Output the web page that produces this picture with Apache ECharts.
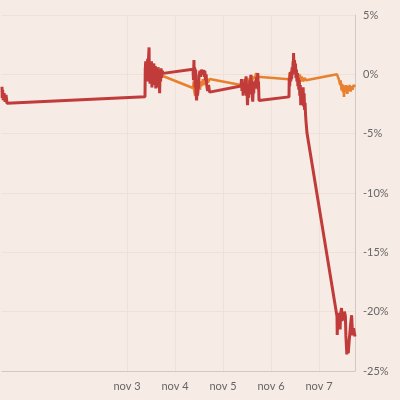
<!DOCTYPE html>
<html>
<head>
<meta charset="utf-8">
<script src="https://cdn.jsdelivr.net/npm/echarts@6/dist/echarts.min.js"></script>
<style>
html,body{margin:0;padding:0;background:#f6ebe5;}
#chart{width:400px;height:400px;}
</style>
</head>
<body>
<div id="chart"></div>
<script>
// x values are days: 3 = nov 3 00:00 (0 = oct 31)
const xTickDays = [3, 4, 5, 6, 7];
const xTickLabels = ['nov 3', 'nov 4', 'nov 5', 'nov 6', 'nov 7'];
const yTicks = [5, 0, -5, -10, -15, -20, -25];

const orangeSeries = [
  [3.375,0.4],[3.385,0.9],[3.395,0.1],[3.41,0.6],[3.42,-0.1],[3.43,1.0],[3.44,0.3],[3.45,0.8],[3.46,0.2],[3.47,1.1],[3.48,0.4],[3.49,0.9],[3.50,-0.2],[3.51,0.8],[3.52,0.1],[3.53,0.7],[3.54,-0.3],[3.55,0.6],[3.56,0.2],[3.57,0.9],[3.58,0.0],[3.59,0.6],[3.61,-0.4],[3.62,0.5],[3.64,0.1],[3.66,0.6],[3.68,-0.2],[3.70,0.4],[3.72,-0.1],[3.75,0.0],
  [4.375,-1.15],[4.39,-0.6],[4.40,-1.4],[4.42,-1.8],[4.43,-0.9],[4.45,-1.5],[4.47,-0.7],[4.48,-1.6],[4.50,-0.8],[4.52,-1.3],[4.54,-0.6],[4.56,-1.0],[4.58,-0.4],[4.60,-0.9],[4.62,-0.3],[4.64,-0.8],[4.66,-0.4],[4.69,-0.7],[4.72,-0.4],[4.75,-0.56],
  [5.375,-0.9],[5.39,-0.5],[5.41,-1.2],[5.43,-0.7],[5.45,-1.3],[5.47,-0.4],[5.49,-0.9],[5.51,-0.3],[5.53,-0.8],[5.55,-0.4],[5.57,-0.7],[5.59,-0.1],[5.61,-0.5],[5.63,-0.2],[5.66,-0.4],[5.69,0.1],[5.72,-0.2],[5.75,-0.06],
  [6.375,-0.42],[6.39,0.1],[6.40,-0.3],[6.42,0.3],[6.44,-0.1],[6.46,0.6],[6.47,0.2],[6.49,0.7],[6.51,0.0],[6.52,0.4],[6.54,-0.3],[6.56,0.1],[6.58,-0.4],[6.60,0.0],[6.62,-0.6],[6.64,-0.2],[6.67,-0.6],[6.70,-0.3],[6.73,-0.5],[6.75,-0.42],
  [7.375,0.0],[7.39,-0.05],[7.40,-0.1],[7.42,-0.5],[7.44,-0.9],[7.45,-0.5],[7.47,-1.35],[7.48,-0.8],[7.50,-1.5],[7.51,-0.9],[7.52,-1.9],[7.54,-1.0],[7.56,-1.5],[7.57,-0.9],[7.59,-1.65],[7.61,-1.0],[7.62,-1.4],[7.64,-0.9],[7.66,-1.45],[7.68,-1.0],[7.70,-1.3],[7.72,-0.9],[7.75,-1.07]
];

const redSeries = [
  [0.396,-1.04],[0.40,-2.0],[0.41,-1.3],[0.42,-2.17],[0.44,-1.58],[0.46,-2.31],[0.48,-1.74],[0.50,-2.44],[0.52,-2.5],
  [3.375,-1.89],[3.38,0.3],[3.39,1.1],[3.40,-0.4],[3.41,1.0],[3.42,-0.6],[3.43,1.3],[3.44,0.1],[3.45,1.5],[3.46,2.27],[3.465,-0.3],[3.47,0.9],[3.48,-0.8],[3.49,1.0],[3.50,-0.4],[3.51,1.1],[3.52,-1.1],[3.53,0.8],[3.54,-0.6],[3.55,0.9],[3.56,-0.9],[3.57,0.6],[3.58,-0.5],[3.59,0.7],[3.60,-1.2],[3.61,0.5],[3.62,-0.6],[3.63,0.6],[3.64,-0.9],[3.65,0.4],[3.66,-1.1],[3.67,0.3],[3.68,-1.6],[3.69,0.4],[3.70,-0.6],[3.71,0.5],[3.72,-0.3],[3.73,0.3],[3.75,0.08],
  [4.375,0.42],[4.385,-0.5],[4.395,1.2],[4.40,-0.2],[4.41,0.6],[4.42,-1.1],[4.43,0.4],[4.44,-1.6],[4.45,-2.2],[4.46,-0.9],[4.47,-1.8],[4.48,-0.6],[4.49,-1.2],[4.50,-0.1],[4.52,0.3],[4.53,-0.2],[4.55,0.4],[4.57,0.0],[4.59,0.36],[4.61,-0.2],[4.62,0.3],[4.64,-0.5],[4.65,0.0],[4.66,-0.9],[4.68,-1.4],[4.70,-0.9],[4.72,-1.5],[4.75,-1.58],
  [5.375,-0.99],[5.385,-0.4],[5.395,-1.4],[5.41,-0.7],[5.42,-1.8],[5.43,-0.9],[5.445,-1.6],[5.455,-0.4],[5.47,-1.1],[5.48,-0.17],[5.49,-1.8],[5.50,-1.1],[5.51,-2.6],[5.52,-1.5],[5.53,-2.0],[5.54,-0.8],[5.55,-1.4],[5.56,-0.5],[5.57,-1.7],[5.58,-0.03],[5.59,-1.0],[5.60,-0.5],[5.61,-1.9],[5.62,-2.3],[5.63,-1.0],[5.64,-1.6],[5.65,-0.6],[5.67,-1.2],[5.68,-0.5],[5.69,-1.0],[5.70,-0.2],[5.715,-0.8],[5.725,0.11],[5.735,-1.3],[5.74,-0.6],[5.75,-2.2],
  [6.375,-1.9],[6.38,-0.3],[6.39,-1.0],[6.40,0.2],[6.41,-0.6],[6.42,0.1],[6.43,-0.4],[6.44,0.6],[6.45,0.0],[6.46,1.1],[6.465,0.4],[6.47,1.8],[6.48,0.5],[6.49,1.2],[6.50,0.2],[6.51,0.9],[6.52,-0.3],[6.53,0.4],[6.54,-0.6],[6.55,0.1],[6.56,-1.0],[6.57,-0.3],[6.58,-1.3],[6.59,-0.5],[6.60,-1.8],[6.61,-0.9],[6.62,-2.6],[6.63,-1.4],[6.64,-2.2],[6.65,-1.2],[6.66,-2.0],[6.67,-1.1],[6.68,-2.7],[6.69,-1.6],[6.70,-3.0],[6.71,-2.4],[6.72,-3.4],[6.73,-4.0],[6.75,-4.95],
  [7.375,-20.4],[7.38,-21.96],[7.39,-20.6],[7.40,-20.1],[7.41,-21.2],[7.42,-20.4],[7.44,-21.5],[7.45,-20.2],[7.47,-19.7],[7.48,-20.8],[7.50,-20.1],[7.51,-20.7],[7.53,-20.0],[7.55,-20.4],[7.56,-22.0],[7.58,-23.6],[7.59,-22.8],[7.61,-23.5],[7.63,-22.4],[7.645,-21.7],[7.66,-21.0],[7.68,-20.3],[7.69,-21.2],[7.70,-22.0],[7.72,-21.4],[7.74,-21.5],[7.75,-22.1]
];

const chart = echarts.init(document.getElementById('chart'), null, {renderer: 'canvas'});
const labelFont = 'Lato, "Open Sans", sans-serif';
chart.setOption({
  backgroundColor: '#f6ebe5',
  animation: false,
  grid: {left: 2, right: 45, top: 15, bottom: 29, containLabel: false},
  xAxis: {
    type: 'value',
    min: 0.396,
    max: 7.75,
    axisLine: {show: true, onZero: false, lineStyle: {color: '#d2c9c4', width: 1}},
    axisTick: {show: false, customValues: xTickDays},
    axisLabel: {
      customValues: xTickDays,
      formatter: function (v) { return xTickLabels[xTickDays.indexOf(Math.round(v))] || ''; },
      color: '#666', fontSize: 11, fontFamily: labelFont, margin: 10
    },
    splitLine: {show: true, lineStyle: {color: '#efe1d8', width: 1}}
  },
  yAxis: {
    type: 'value',
    position: 'right',
    min: -25,
    max: 5,
    interval: 5,
    axisLine: {show: true, onZero: false, lineStyle: {color: '#d2c9c4', width: 1}},
    axisTick: {show: false},
    axisLabel: {
      formatter: function (v) { return yTicks.indexOf(v) >= 0 ? v + '%' : ''; },
      color: '#666', fontSize: 11, fontFamily: labelFont, margin: 8
    },
    splitLine: {show: true, lineStyle: {color: '#efe1d8', width: 1}}
  },
  series: [
    {type: 'line', data: orangeSeries, showSymbol: false, symbol: 'none',
     lineStyle: {color: '#e8802e', width: 2.5}, z: 2},
    {type: 'line', data: redSeries, showSymbol: false, symbol: 'none',
     lineStyle: {color: '#c03b3a', width: 3}, z: 3}
  ]
});
</script>
</body>
</html>
